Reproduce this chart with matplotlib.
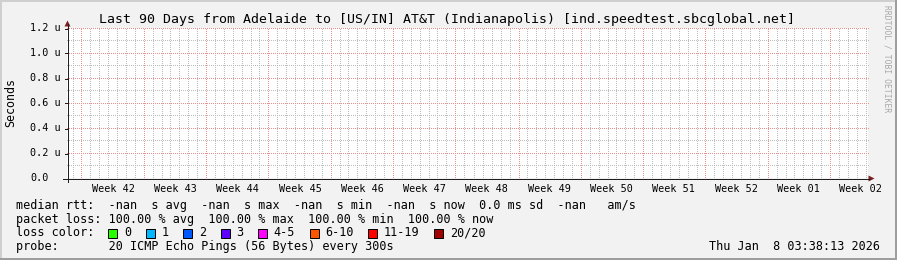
import matplotlib
matplotlib.use("Agg")
import matplotlib.pyplot as plt
from matplotlib.patches import Rectangle, Polygon
from matplotlib.lines import Line2D
from matplotlib.colors import to_rgba
import matplotlib.transforms as mtransforms
import numpy as np

# ---------------- data ----------------
title = "Last 90 Days from Adelaide to [US/IN] AT&T (Indianapolis) [ind.speedtest.sbcglobal.net]"
ylabel = "Seconds"
watermark = "RRDTOOL / TOBI OETIKER"
span_days = 90
first_day_line = 0.68          # days after start of first daily grid line
first_week_line = 1.68         # days after start of first week boundary
week_labels = ["Week 42", "Week 43", "Week 44", "Week 45", "Week 46", "Week 47",
               "Week 48", "Week 49", "Week 50", "Week 51", "Week 52", "Week 01", "Week 02"]
y_max = 1.2e-6
y_major_vals = [0.0, 0.2e-6, 0.4e-6, 0.6e-6, 0.8e-6, 1.0e-6, 1.2e-6]
y_minor_vals = [0.1e-6, 0.3e-6, 0.5e-6, 0.7e-6, 0.9e-6, 1.1e-6]
y_tick_labels = ["0.0", "0.2 u", "0.4 u", "0.6 u", "0.8 u", "1.0 u", "1.2 u"]
median_rtt = []   # no samples (all NaN in the period)

legend_rtt = "median rtt:  -nan  s avg  -nan  s max  -nan  s min  -nan  s now  0.0 ms sd  -nan   am/s"
legend_loss = "packet loss: 100.00 % avg  100.00 % max  100.00 % min  100.00 % now"
loss_title = "loss color:"
loss_labels = ["0", "1", "2", "3", "4-5", "6-10", "11-19", "20/20"]
loss_colors = ["#26ff00", "#00b8ff", "#0059ff", "#5e00ff", "#ff00ff", "#ff5500", "#ff0000", "#a10000"]
probe_text = "probe:       20 ICMP Echo Pings (56 Bytes) every 300s"
timestamp = "Thu Jan  8 03:38:13 2026"

# ---------------- layout ----------------
W, H, DPI = 897, 260, 100
X0, X1 = 67, 868     # plot area pixel edges (data 0 .. span)
Y0, Y1 = 178, 28     # plot area pixel edges (data 0 .. y_max)
MONO = "DejaVu Sans Mono"
BG = "#f2f2f2"
lw = 72 / DPI        # 1 px

def fx(x):
    return x / W

def fy(y):
    return 1 - y / H

npx_x = X1 - X0
npx_y = Y0 - Y1

fig = plt.figure(figsize=(W / DPI, H / DPI), dpi=DPI, facecolor=BG)
ax = fig.add_axes([fx(X0), fy(Y0), fx(X1) - fx(X0), fy(Y1) - fy(Y0)])
ax.set_facecolor("white")
ax.set_xlim(0, span_days)
ax.set_ylim(0, y_max)
for s in ax.spines.values():
    s.set_visible(False)
ax.set_yticks([])

# dotted grid (1 px on / 1 px off), rendered pixel-exact as an overlay image
minor_c = to_rgba("#bcbcbc")
major_c = to_rgba("#eb8f8f")
grid = np.zeros((npx_y, npx_x, 4))

def col_of(d):
    return int(np.floor(d / span_days * npx_x))

def row_of(v):
    return int(np.floor((y_max - v) / y_max * npx_y))

week_lines = np.arange(first_week_line, span_days, 7.0)
for d in np.arange(first_day_line, span_days, 1.0):
    c = col_of(d)
    if 0 <= c < npx_x:
        grid[1::2, c] = minor_c
for v in y_minor_vals:
    r = row_of(v)
    grid[r, 0::2] = minor_c
for d in week_lines:
    c = col_of(d)
    if 0 <= c < npx_x:
        grid[1::2, c] = major_c
for v in y_major_vals[1:]:
    r = row_of(v)
    grid[r, 0::2] = major_c
ax.imshow(grid, extent=(0, span_days, 0, y_max), aspect="auto", interpolation="nearest",
          origin="upper", zorder=1)
ax.set_xlim(0, span_days)
ax.set_ylim(0, y_max)

if median_rtt:
    ax.plot(range(len(median_rtt)), median_rtt, color="#26ff00")

# x labels at mid-week
pos, labs = [], []
for i, d in enumerate(week_lines):
    m = d + 3.5
    if 0 <= m <= span_days and i < len(week_labels):
        pos.append(m)
        labs.append(week_labels[i])
ax.set_xticks(pos, labs)
ax.tick_params(axis="x", length=0, pad=4.2, labelsize=7.3, labelcolor="black")
for t in ax.get_xticklabels():
    t.set_fontfamily(MONO)

# y tick labels
tr = mtransforms.blended_transform_factory(fig.transFigure, ax.transData)
for yv, lab in zip(y_major_vals, y_tick_labels):
    fig.text(fx(30), yv, lab, transform=tr, ha="left", va="center",
             fontsize=7.3, family=MONO, color="black")

# axis lines and arrows
axis_c = "#1f1f1f"
arrow_c = "#801f1f"
AXX = X0 + 0.5
AXY = Y0 + 0.5
fig.add_artist(Line2D([fx(AXX), fx(AXX)], [fy(181.5), fy(24)], color=axis_c, lw=lw,
                      transform=fig.transFigure))
fig.add_artist(Line2D([fx(62.5), fx(870)], [fy(AXY), fy(AXY)], color=axis_c, lw=lw,
                      transform=fig.transFigure))
for yv in y_major_vals[1:]:
    ypx = Y0 - npx_y * yv / y_max + 0.5
    fig.add_artist(Line2D([fx(64.5), fx(AXX)], [fy(ypx), fy(ypx)], color=axis_c, lw=lw,
                          transform=fig.transFigure))
fig.add_artist(Polygon([[fx(AXX), fy(20.5)], [fx(64.5), fy(26.5)], [fx(70.5), fy(26.5)]],
                       closed=True, color=arrow_c, transform=fig.transFigure, lw=0))
fig.add_artist(Polygon([[fx(874.5), fy(AXY)], [fx(868.5), fy(175.5)], [fx(868.5), fy(181.5)]],
                       closed=True, color=arrow_c, transform=fig.transFigure, lw=0))

# title, y label, watermark
fig.text(fx(446.5), fy(23), title, ha="center", va="baseline", fontsize=9.5, family=MONO, color="black")
fig.text(fx(11), fy(103), ylabel, ha="center", va="center", rotation=90, fontsize=8.4,
         family=MONO, color="black")
fig.text(fx(887), fy(59), watermark, ha="center", va="center", rotation=270, fontsize=5.8,
         family=MONO, color="#a8a8a8")

# legend
LX = 16
fs_leg = 8.5
base = [208.5, 222.5, 236.5, 250]
fig.text(fx(LX), fy(base[0]), legend_rtt, ha="left", va="baseline", fontsize=fs_leg, family=MONO)
fig.text(fx(LX), fy(base[1]), legend_loss, ha="left", va="baseline", fontsize=fs_leg, family=MONO)
fig.text(fx(LX), fy(base[2]), loss_title, ha="left", va="baseline", fontsize=fs_leg, family=MONO)
bx = 108.3
cw = 7.12
for lab, col in zip(loss_labels, loss_colors):
    fig.add_artist(Rectangle((fx(bx), fy(237.5)), fx(9), 9 / H, facecolor=col, edgecolor="black",
                             lw=lw, transform=fig.transFigure))
    fig.text(fx(bx + 15.5), fy(base[2]), lab, ha="left", va="baseline", fontsize=fs_leg, family=MONO)
    bx += 30.3 + cw * len(lab)
fig.text(fx(LX), fy(base[3]), probe_text, ha="left", va="baseline", fontsize=fs_leg, family=MONO)
fig.text(fx(880), fy(base[3]), timestamp, ha="right", va="baseline", fontsize=fs_leg, family=MONO)

# frame (shade)
fig.add_artist(Line2D([0, 0], [0, 1], color="#cfcfcf", lw=4 * lw, transform=fig.transFigure))
fig.add_artist(Line2D([0, 1], [1, 1], color="#cfcfcf", lw=4 * lw, transform=fig.transFigure))
fig.add_artist(Line2D([1, 1], [0, 1], color="#9e9e9e", lw=4 * lw, transform=fig.transFigure))
fig.add_artist(Line2D([0, 1], [0, 0], color="#9e9e9e", lw=4 * lw, transform=fig.transFigure))

fig.savefig("out.png", dpi=DPI, facecolor=BG)
